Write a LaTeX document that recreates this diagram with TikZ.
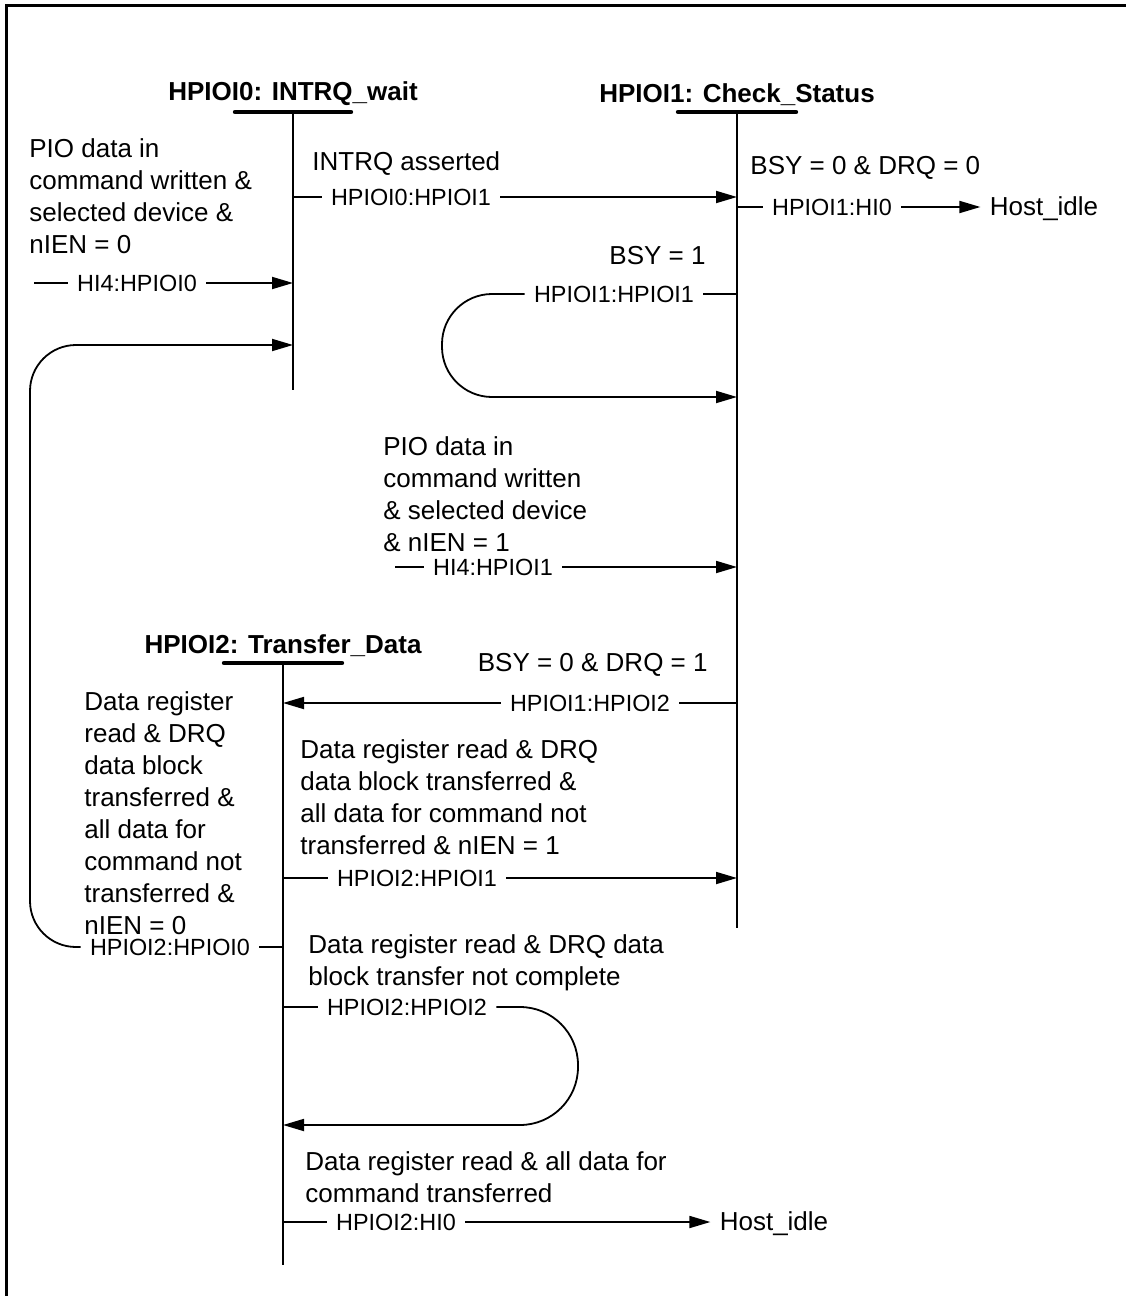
\documentclass[tikz,border=0pt]{standalone}
\usepackage{fontspec}
\setmainfont{Liberation Sans}
\usetikzlibrary{arrows.meta, positioning}

\tikzset{
  boxline/.style={line width=1.25pt},
  stline/.style={line width=1.2pt},
  sbar/.style={line width=2.2pt, line cap=round},
  plain/.style={line width=0.9pt},
  tr/.style={line width=0.9pt, -{Triangle[length=10.5pt,width=6pt]}},
  stitle/.style={font=\fontsize{13}{16}\selectfont\bfseries, inner sep=0pt},
  cond/.style={font=\fontsize{13}{16}\selectfont, align=left, inner sep=0pt},
  lbl/.style={font=\fontsize{11.7}{14}\selectfont, inner xsep=4.5pt, inner ysep=0pt,
    text height=1.7ex, text depth=0pt},
  dest/.style={font=\fontsize{13}{16}\selectfont, inner xsep=4.5pt, inner ysep=0pt,
    text height=1.6ex, text depth=0pt},
}

\begin{document}
\begin{tikzpicture}[x=0.5pt, y=-0.5pt]
  \useasboundingbox (0,0) rectangle (1126,1296);
  \draw[boxline] (6.5,1296) -- (6.5,5.5) -- (1126,5.5);

  % states
  \coordinate (s0) at (293,112);
  \coordinate (s0e) at (293,390);
  \coordinate (s1) at (737,112);
  \coordinate (s1e) at (737,928);
  \coordinate (s2) at (283,663);
  \coordinate (s2e) at (283,1265);
  \node[stitle] (h0) [above=3pt of s0] {HPIOI0: INTRQ\_wait};
  \node[stitle] (h1) [above=3pt of s1] {HPIOI1: Check\_Status};
  \node[stitle] (h2) [above=3pt of s2] {HPIOI2: Transfer\_Data};
  \draw[stline] (s0) -- (s0e);
  \draw[stline] (s1) -- (s1e);
  \draw[stline] (s2) -- (s2e);
  \draw[sbar] (s0) ++(-58,0) -- ++(116,0);
  \draw[sbar] (s1) ++(-59,0) -- ++(118,0);
  \draw[sbar] (s2) ++(-59,0) -- ++(118,0);

  % conditions
  \node[cond, anchor=north west] (c0) at (29,138) {PIO data in\\command written \&\\selected device \&\\nIEN = 0};
  \node[cond, anchor=north west] (c1) at (312,151) {INTRQ asserted};
  \node[cond, anchor=north west] (c2) at (750,156) {BSY = 0 \& DRQ = 0};
  \node[cond, anchor=north east] (c3) at (706,246) {BSY = 1};
  \node[cond, anchor=north west] (c4) at (383,436) {PIO data in\\command written\\\& selected device\\\& nIEN = 1};
  \node[cond, anchor=north east] (c5) at (708,653) {BSY = 0 \& DRQ = 1};
  \node[cond, anchor=north west] (c6) at (84,691) {Data register\\read \& DRQ\\data block\\transferred \&\\all data for\\command not\\transferred \&\\nIEN = 0};
  \node[cond, anchor=north west] (c7) at (300,739) {Data register read \& DRQ\\data block transferred \&\\all data for command not\\transferred \& nIEN = 1};
  \node[cond, anchor=north west] (c8) at (308,934) {Data register read \& DRQ data\\block transfer not complete};
  \node[cond, anchor=north west] (c9) at (305,1151) {Data register read \& all data for\\command transferred};

  % HI4 -> HPIOI0
  \coordinate (i40) at (34,283);
  \node[lbl] (t40) at (137,283) {HI4:HPIOI0};
  \draw[plain] (i40) -- (t40.west);
  \draw[tr] (t40.east) -- (t40.east -| s0);

  % HPIOI2 -> HPIOI0
  \coordinate (l20) at (30,345);
  \node[lbl] (t20) at (170,947) {HPIOI2:HPIOI0};
  \draw[plain] (t20.east -| s2) -- (t20.east);
  \draw[tr, rounded corners=23pt] (t20.west) -| (l20) -- (l20 -| s0);

  % HPIOI0 -> HPIOI1
  \node[lbl] (t01) at (411,197) {HPIOI0:HPIOI1};
  \draw[plain] (t01.west -| s0) -- (t01.west);
  \draw[tr] (t01.east) -- (t01.east -| s1);

  % HPIOI1 -> HI0
  \node[lbl] (t1h) at (832,207) {HPIOI1:HI0};
  \node[dest] (idle1) at (1044,207) {Host\_idle};
  \draw[plain] (t1h.west -| s1) -- (t1h.west);
  \draw[tr] (t1h.east) -- (idle1.west);

  % HPIOI1 -> HPIOI1
  \coordinate (l11) at (442,397);
  \node[lbl] (t11) at (614,294) {HPIOI1:HPIOI1};
  \draw[plain] (t11.east -| s1) -- (t11.east);
  \draw[tr, rounded corners=25pt] (t11.west) -| (l11) -- (l11 -| s1);

  % HI4 -> HPIOI1
  \coordinate (i41) at (395,567);
  \node[lbl] (t41) at (493,567) {HI4:HPIOI1};
  \draw[plain] (i41) -- (t41.west);
  \draw[tr] (t41.east) -- (t41.east -| s1);

  % HPIOI1 -> HPIOI2
  \node[lbl] (t12) at (590,703) {HPIOI1:HPIOI2};
  \draw[plain] (t12.east -| s1) -- (t12.east);
  \draw[tr] (t12.west) -- (t12.west -| s2);

  % HPIOI2 -> HPIOI1
  \node[lbl] (t21) at (417,878) {HPIOI2:HPIOI1};
  \draw[plain] (t21.west -| s2) -- (t21.west);
  \draw[tr] (t21.east) -- (t21.east -| s1);

  % HPIOI2 -> HPIOI2
  \coordinate (l22) at (578,1125);
  \node[lbl] (t22) at (407,1007) {HPIOI2:HPIOI2};
  \draw[plain] (t22.west -| s2) -- (t22.west);
  \draw[tr, rounded corners=29pt] (t22.east) -| (l22) -- (l22 -| s2);

  % HPIOI2 -> HI0
  \node[lbl] (t2h) at (396,1222) {HPIOI2:HI0};
  \node[dest] (idle2) at (774,1222) {Host\_idle};
  \draw[plain] (t2h.west -| s2) -- (t2h.west);
  \draw[tr] (t2h.east) -- (idle2.west);
\end{tikzpicture}
\end{document}
